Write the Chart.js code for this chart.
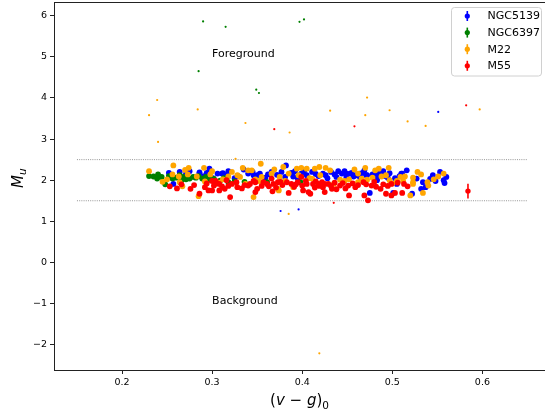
<!DOCTYPE html>
<html><head><meta charset="utf-8">
<script src="https://cdn.jsdelivr.net/npm/chart.js@4.4.0/dist/chart.umd.min.js"></script>
<style>html,body{margin:0;padding:0;background:#fff;overflow:hidden}#wrap{width:545px;height:415px;position:relative}</style>
</head><body><div id="wrap"><canvas id="c" width="545" height="415"></canvas></div>
<script>
const seriesNames = ['NGC5139', 'NGC6397', 'M22', 'M55'];
const seriesColors = ['#0000ff', '#008000', '#ffa500', '#ff0000'];

const ngc5139X = [0.252,0.257,0.275,0.286,0.297,0.306,0.312,0.316,0.335,0.340,0.346,0.350,0.353,0.359,0.382,0.381,0.390,0.399,0.411,0.423,0.432,0.436,0.444,0.449,0.453,0.457,0.464,0.472,0.475,0.481,0.486,0.483,0.497,0.505,0.510,0.516,0.522,0.534,0.532,0.537,0.548,0.557,0.558,0.560,
  0.366,0.372,0.392,0.405,0.418,0.428,0.440,0.467,0.492,0.503,0.542,0.329,0.301,0.291,0.449,0.455,0.464,0.471,0.483,0.486,0.511,0.501,0.286,0.311,
  0.318,0.325,0.345,0.362,0.377,0.388,0.395,0.402,0.415,0.426,0.438,0.447,0.460,0.469,0.478,0.490,0.495,0.508,0.527,0.545,0.553,0.271,0.264,0.294,
  0.376,0.396,0.551];
const ngc5139Y = [2.18,1.91,2.22,2.16,2.28,2.16,2.17,2.13,2.26,2.16,2.12,2.12,2.16,2.06,2.36,2.08,2.09,2.16,2.20,2.16,2.20,2.14,2.16,2.08,2.16,2.09,2.08,2.12,1.69,2.16,2.20,2.00,2.17,1.91,2.16,2.24,1.67,1.95,1.79,1.83,1.98,2.00,1.93,2.08,
  2.20,2.13,2.22,2.12,2.10,2.05,2.22,2.18,2.10,2.05,2.03,2.10,2.05,2.10,2.16,2.18,2.16,2.12,2.04,2.12,2.16,1.69,2.19,2.16,
  2.22,2.05,2.20,2.14,2.20,2.18,2.05,2.22,2.15,2.12,2.08,2.22,2.12,2.24,2.14,2.22,2.06,2.10,2.04,2.12,2.20,2.15,2.20,2.18,
  1.25,1.29,3.66];

const ngc6397X = [0.235,0.240,0.239,0.248,0.260,0.268,0.275,0.279,0.289,0.318,0.361,
  0.252,0.256,0.264,0.271,0.282,0.285,0.293,0.297,0.302,0.309,0.313,0.325,0.336,0.244,0.266,0.230,0.398,
  0.290,0.315,0.397,0.402,0.285,0.349,0.352];
const ngc6397Y = [2.09,2.14,2.04,1.90,2.06,2.08,2.04,2.08,2.04,1.95,1.95,
  2.10,2.04,2.12,2.02,2.06,2.10,2.08,2.01,2.03,1.99,2.05,1.97,1.96,2.08,2.00,2.10,1.95,
  5.86,5.73,5.85,5.91,4.65,4.20,4.12];

const m22X = [0.230,0.257,0.245,0.256,0.263,0.264,0.267,0.274,0.273,0.283,0.291,0.298,0.303,0.308,0.285,0.318,0.328,0.331,0.337,0.340,0.344,0.346,0.354,0.355,0.366,0.373,0.374,0.379,0.375,0.385,0.394,0.396,0.390,0.414,0.420,0.426,0.435,0.442,0.462,0.470,0.472,0.462,0.485,0.488,0.496,0.497,0.505,0.509,0.514,0.523,0.523,0.523,0.520,0.532,0.539,0.540,0.534,0.551,0.557,
  0.405,0.419,0.408,0.452,0.478,0.500,0.348,0.322,0.300,0.292,
  0.312,0.334,0.352,0.369,0.381,0.399,0.411,0.431,0.447,0.458,0.466,0.481,0.493,0.512,0.528,0.546,0.270,0.250,
  0.239,0.230,0.284,0.337,0.386,0.431,0.472,0.470,0.497,0.517,0.537,0.597,0.240,0.326,0.385,0.419];
const m22Y = [2.22,2.36,1.96,2.14,2.09,1.95,1.85,2.30,2.14,2.09,2.30,2.14,1.91,1.94,1.61,2.09,2.12,2.08,1.91,2.24,2.24,1.59,2.40,2.08,2.16,1.79,1.75,2.32,2.08,2.16,2.28,2.12,1.83,2.28,2.12,2.30,1.91,2.01,2.16,2.30,2.01,1.95,2.28,2.09,2.30,2.00,1.98,2.08,2.09,2.06,1.95,1.91,1.63,2.14,1.95,1.87,1.69,2.09,2.16,
  2.28,2.32,2.05,2.02,2.06,1.92,2.02,2.20,2.22,1.97,
  2.02,2.30,1.98,2.26,1.98,2.30,2.04,2.24,1.98,2.26,2.04,2.24,2.12,1.98,2.20,2.02,2.25,2.02,
  3.95,3.58,3.72,3.39,3.16,3.69,4.01,3.58,3.70,3.43,3.32,3.72,2.93,2.52,1.18,-2.21];

const m55X = [0.253,0.276,0.300,0.304,0.308,0.302,0.311,0.286,0.296,0.300,0.308,0.316,0.322,0.314,0.320,0.327,0.328,0.342,0.340,0.348,0.350,0.348,0.357,0.361,0.366,0.368,0.367,0.373,0.383,0.388,0.385,0.393,0.399,0.400,0.405,0.401,0.407,0.412,0.418,0.422,0.425,0.429,0.414,0.423,0.433,0.425,0.409,0.442,0.451,0.452,0.459,0.468,0.469,0.473,0.477,0.487,0.493,0.499,0.499,0.503,0.513,0.517,0.511,
  0.336,0.355,0.378,0.395,0.415,0.432,0.445,0.462,0.482,0.490,0.266,0.292,0.294,0.371,0.438,
  0.305,0.318,0.333,0.346,0.363,0.376,0.391,0.404,0.419,0.436,0.448,0.456,0.471,0.480,0.495,0.506,0.280,0.261,
  0.369,0.458,0.582,0.435];
const m55Y = [1.85,1.79,1.98,1.98,1.91,1.87,1.85,1.67,1.75,1.75,1.75,2.00,1.91,1.79,1.59,1.95,1.83,1.91,1.87,1.95,1.79,1.71,1.95,1.91,2.04,1.91,1.73,1.95,1.95,1.91,1.69,1.90,2.08,1.87,1.91,1.75,1.71,1.91,1.91,1.95,1.91,1.91,1.82,1.83,1.79,1.71,1.67,1.87,1.87,1.63,1.83,1.95,1.63,1.51,1.87,1.79,1.67,1.91,1.63,1.69,1.91,1.85,1.69,
  1.88,1.86,1.88,1.95,1.97,1.86,1.93,1.88,1.84,1.90,1.90,1.83,1.92,1.82,1.78,
  1.92,1.86,1.80,1.98,1.85,1.96,1.84,1.98,1.86,1.94,1.80,1.92,1.90,1.96,1.86,1.94,1.88,1.80,
  3.24,3.31,3.82,1.45];

// representative error bar (M55)
const errX = [0.584];
const errY = [1.735];
const errSize = [0.18];

const xTicks = [0.2, 0.3, 0.4, 0.5, 0.6];
const yTicks = [-2, -1, 0, 1, 2, 3, 4, 5, 6];
const bandX = [0.15, 0.65];
const bandY = [2.5, 1.5];
const noteText = ['Foreground', 'Background'];
const noteX = [0.3, 0.3];
const noteY = [5, -1];

const seriesX = [ngc5139X, ngc6397X, m22X, m55X];
const seriesY = [ngc5139Y, ngc6397Y, m22Y, m55Y];

const FONT = "'DejaVu Sans', 'Liberation Sans', sans-serif";

const datasets = [];
seriesNames.forEach((name, i) => {
  datasets.push({
    type: 'scatter', label: name,
    data: seriesX[i].map((x, j) => ({x: x, y: seriesY[i][j]})),
    backgroundColor: seriesColors[i], borderWidth: 0,
    pointRadius: ctx => (ctx.raw && ctx.raw.y >= 1.5 && ctx.raw.y <= 2.5) ? 2.9 : 1.1,
    order: 4 - i
  });
});
bandY.forEach(v => {
  datasets.push({
    type: 'line', label: '_band',
    data: bandX.map(x => ({x: x, y: v})),
    borderColor: '#8a8a8a', borderWidth: 0.9, borderDash: [1, 1.2],
    pointRadius: 0, fill: false, order: 10
  });
});

const decor = {
  id: 'decor',
  afterDatasetsDraw(chart) {
    const {ctx, chartArea: a, scales: {x, y}} = chart;
    ctx.save();
    // error bar
    errX.forEach((ex, k) => {
      const px = x.getPixelForValue(ex);
      ctx.strokeStyle = seriesColors[3]; ctx.lineWidth = 1.6;
      ctx.beginPath();
      ctx.moveTo(px, y.getPixelForValue(errY[k] + errSize[k]));
      ctx.lineTo(px, y.getPixelForValue(errY[k] - errSize[k]));
      ctx.stroke();
      ctx.fillStyle = seriesColors[3];
      ctx.beginPath(); ctx.arc(px, y.getPixelForValue(errY[k]), 2.7, 0, Math.PI * 2); ctx.fill();
    });
    // frame (top spine)
    ctx.strokeStyle = '#222'; ctx.lineWidth = 1;
    ctx.beginPath();
    ctx.moveTo(a.left, a.top + 0.5); ctx.lineTo(a.right, a.top + 0.5);
    ctx.stroke();
    // annotations
    ctx.fillStyle = '#000';
    ctx.font = '11px ' + FONT;
    ctx.textAlign = 'left'; ctx.textBaseline = 'alphabetic';
    noteText.forEach((t, k) => ctx.fillText(t, x.getPixelForValue(noteX[k]), y.getPixelForValue(noteY[k])));
    // legend
    const lx = 451.5, ly = 7.5, lw = 90, lh = 68.5;
    ctx.fillStyle = 'rgba(255,255,255,0.8)';
    ctx.strokeStyle = '#d0d0d0'; ctx.lineWidth = 1;
    ctx.beginPath(); ctx.roundRect(lx, ly, lw, lh, 3); ctx.fill(); ctx.stroke();
    ctx.font = '11px ' + FONT; ctx.textBaseline = 'middle';
    seriesNames.forEach((n, k) => {
      const cy = 16 + k * 16.6;
      ctx.strokeStyle = seriesColors[k]; ctx.lineWidth = 1.6;
      ctx.beginPath(); ctx.moveTo(467.3, cy - 5); ctx.lineTo(467.3, cy + 5); ctx.stroke();
      ctx.fillStyle = seriesColors[k];
      ctx.beginPath(); ctx.arc(467.3, cy, 2.6, 0, Math.PI * 2); ctx.fill();
      ctx.fillStyle = '#000';
      ctx.fillText(n, 487.5, cy + 0.5);
    });
    // x axis title: (v - g)_0
    const parts = [
      {t: '(', f: '15px ' + FONT, dy: 0},
      {t: 'v', f: 'italic 15px ' + FONT, dy: 0},
      {t: ' \u2212 ', f: '15px ' + FONT, dy: 0},
      {t: 'g', f: 'italic 15px ' + FONT, dy: 0},
      {t: ')', f: '15px ' + FONT, dy: 0},
      {t: '0', f: '10.5px ' + FONT, dy: 3.5}
    ];
    let tw = 0;
    parts.forEach(p => { ctx.font = p.f; p.w = ctx.measureText(p.t).width; tw += p.w; });
    let cx = (a.left + a.right) / 2 - tw / 2;
    ctx.textAlign = 'left'; ctx.textBaseline = 'alphabetic'; ctx.fillStyle = '#000';
    parts.forEach(p => { ctx.font = p.f; ctx.fillText(p.t, cx, 405 + p.dy); cx += p.w; });
    // y axis title: M_u
    ctx.translate(23, 188);
    ctx.rotate(-Math.PI / 2);
    ctx.font = 'italic 15px ' + FONT;
    ctx.fillText('M', 0, 0);
    const mw = ctx.measureText('M').width;
    ctx.font = 'italic 10.5px ' + FONT;
    ctx.fillText('u', mw, 3);
    ctx.restore();
  }
};

new Chart(document.getElementById('c'), {
  data: {datasets: datasets},
  options: {
    responsive: false, animation: false, devicePixelRatio: 1,
    layout: {autoPadding: false, padding: {top: 2, right: 0, left: 0, bottom: 0}},
    plugins: {legend: {display: false}, tooltip: {enabled: false}},
    scales: {
      x: {
        type: 'linear', min: 0.1245, max: 0.6695,
        afterBuildTicks: s => { s.ticks = xTicks.map(v => ({value: v})); },
        afterFit: s => { s.height = 45; s.paddingLeft = 0; s.paddingRight = 0; },
        grid: {drawOnChartArea: false, drawTicks: true, tickLength: 4, tickColor: '#222', tickWidth: 1},
        border: {display: true, color: '#222', width: 1},
        ticks: {autoSkip: false, maxRotation: 0, padding: 3, color: '#000',
          font: {family: FONT, size: 9.5},
          callback: v => Number(v).toFixed(1)}
      },
      y: {
        type: 'linear', min: -2.616, max: 6.333,
        afterBuildTicks: s => { s.ticks = yTicks.map(v => ({value: v})); },
        afterFit: s => { s.width = 54; s.paddingTop = 0; s.paddingBottom = 0; },
        grid: {drawOnChartArea: false, drawTicks: true, tickLength: 4, tickColor: '#222', tickWidth: 1},
        border: {display: true, color: '#222', width: 1},
        ticks: {autoSkip: false, padding: 3, color: '#000',
          font: {family: FONT, size: 9.5},
          callback: v => String(v).replace('-', '\u2212')}
      }
    }
  },
  plugins: [decor]
});
</script>
</body></html>
